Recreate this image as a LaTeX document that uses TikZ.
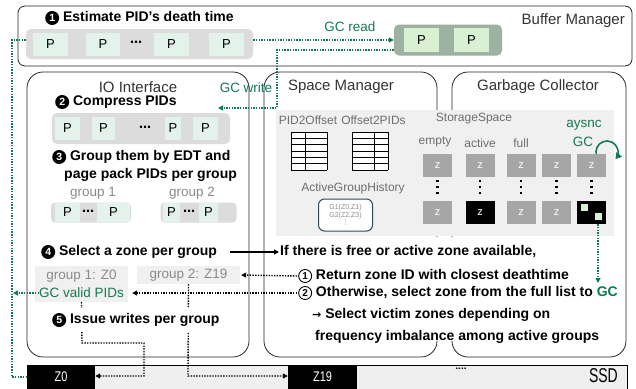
\documentclass[tikz,border=0pt]{standalone}
\usepackage{fontspec}
\usepackage{graphicx}
\setmainfont{Liberation Sans}
\newfontfamily\symfont{DejaVu Sans}
\usetikzlibrary{arrows.meta}

\definecolor{gcgreen}{HTML}{117A50}
\definecolor{barfill}{HTML}{DCDCDC}
\definecolor{pfill}{HTML}{E3F3EC}
\definecolor{readbox}{HTML}{9DB2A0}
\definecolor{readp}{HTML}{DAF0D3}
\definecolor{storefill}{HTML}{F0F0F0}
\definecolor{zgray}{HTML}{A6A6A6}
\definecolor{ltext}{HTML}{8A8A8A}
\definecolor{mtext}{HTML}{6E6E6E}
\definecolor{ssdfill}{HTML}{EFEFEF}
\definecolor{histline}{HTML}{2E4A5A}

% filled and outlined circled digits
\newcommand\stepnum[1]{\tikz[baseline=(stepnumnode.base)]\node[circle, fill=black, text=white,
  inner sep=0pt, minimum size=14pt, font=\bfseries\fontsize{10.5}{10}\selectfont] (stepnumnode) {#1};}
\newcommand\optnum[1]{\tikz[baseline=(optnumnode.base)]\node[circle, draw=black, line width=0.9pt,
  inner sep=0pt, minimum size=13pt, font=\fontsize{10}{10}\selectfont] (optnumnode) {#1};}
\newcommand\narrowtext[1]{\scalebox{0.78}[1]{#1}}

\tikzset{
  panel/.style={draw=black!85, line width=0.8pt, rounded corners=16pt},
  title/.style={font=\fontsize{15}{17}\selectfont, text=black!80, inner sep=0pt},
  stepline/.style={font=\bfseries\fontsize{14}{16}\selectfont, anchor=west, inner sep=1pt},
  bar/.style={fill=barfill, rounded corners=5pt, inner sep=0pt},
  pbox/.style={fill=pfill, minimum height=23pt, inner sep=0pt, font=\fontsize{13}{14}\selectfont},
  rpbox/.style={fill=readp, minimum height=24pt, minimum width=35pt, inner sep=0pt, font=\fontsize{13}{14}\selectfont},
  ell/.style={font=\bfseries\symfont\fontsize{12}{12}\selectfont, inner sep=0pt},
  glabel/.style={font=\fontsize{13.5}{15}\selectfont, text=ltext, inner sep=0pt},
  slabel/.style={font=\fontsize{12}{14}\selectfont, text=mtext, inner sep=0pt},
  green text/.style={font=\fontsize{13.5}{15}\selectfont, text=gcgreen, inner sep=0pt},
  zbox/.style={fill=zgray, minimum width=29pt, minimum height=23pt, inner sep=0pt,
    text=white, font=\fontsize{11}{12}\selectfont},
  zdark/.style={zbox, fill=black},
  blkdot/.style={draw=black, line width=1.4pt, dash pattern=on 1.4pt off 1.3pt},
  gcdot/.style={draw=gcgreen, line width=1.4pt, dash pattern=on 1.4pt off 1.3pt},
  tip/.style={-{Triangle[length=5pt,width=5pt]}},
  ssdzone/.style={fill=black, text=white, inner sep=0pt, minimum height=23pt,
    font=\fontsize{14}{15}\selectfont},
}

\begin{document}
\begin{tikzpicture}[x=1pt,y=-1pt]
\useasboundingbox (0,0) rectangle (636,388);
\fill[white] (0,0) rectangle (636,388);

% ---------------- Buffer Manager ----------------
\draw[panel, rounded corners=7pt] (18,6) rectangle (632,66);
\node[title, anchor=east] (bm) at (625,21) {Buffer Manager};
\node[stepline] (s1) at (44,18) {\stepnum{1} Estimate PID’s death time};
\node[bar, minimum width=227pt, minimum height=30pt] (bar1) at (139.5,44) {};
\node[pbox, minimum width=35pt] (p11) at (50.5,44) {P};
\node[pbox, minimum width=34pt] (p12) at (103,44) {P};
\node[ell] (e1) at (136,44) {⋯};
\node[pbox, minimum width=35pt] (p13) at (171.5,44) {P};
\node[pbox, minimum width=35pt] (p14) at (226.5,44) {P};

\node[bar, fill=readbox, minimum width=108pt, minimum height=31pt] (rbox) at (448,40) {};
\node[rpbox] (rp1) at (421.5,40) {P};
\node[rpbox] (rp2) at (471.5,40) {P};
\node[green text] (gcread) at (350,27) {GC read};

% ---------------- panels ----------------
\draw[panel] (27,72) rectangle (249,357);
\draw[panel] (264,72) rectangle (437,357);
\draw[panel] (452,72) rectangle (626,357);
\fill[white] (430,237) rectangle (459,341);

\node[title] (ioi) at (138,87) {IO Interface};
\node[title] (smt) at (341,87) {Space Manager};
\node[title] (gct) at (538,87) {Garbage Collector};

% ---------------- GC read / write paths ----------------
\node[green text] (gcwrite) at (246,88) {GC write};
\coordinate (gcwend) at (218,108);
\draw[gcdot, tip] (bar1.east |- rbox.west) -- (rbox.west);
\draw[gcdot, tip] ([yshift=-10pt]rbox.west) -- (277,50) -- (277,108) -- (gcwend);

% ---------------- IO Interface ----------------
\node[stepline] (s2) at (54,102) {\stepnum{2} Compress PIDs};
\node[bar, minimum width=178pt, minimum height=31pt] (bar2) at (141,128.5) {};
\node[pbox, minimum width=25pt] (p21) at (67.5,128.5) {P};
\node[pbox, minimum width=23pt] (p22) at (103.5,128.5) {P};
\node[ell] (e2) at (145,128.5) {⋯};
\node[pbox, minimum width=16pt] (p23) at (173,128.5) {P};
\node[pbox, minimum width=25pt] (p24) at (205.5,128.5) {P};

\node[stepline] (s3) at (51,157) {\stepnum{3} Group them by EDT and};
\node[stepline] (s3b) at (63,175) {page pack PIDs per group};
\node[glabel] (g1t) at (93,193) {group 1};
\node[glabel] (g2t) at (192,193) {group 2};

\node[bar, rounded corners=4pt, minimum width=80pt, minimum height=20pt] (g1) at (91,212.5) {};
\node[pbox, minimum width=25pt, minimum height=19pt] (g1a) at (67.5,212.5) {P};
\node[ell] (e3) at (88,212.5) {⋯};
\node[pbox, minimum width=33pt, minimum height=19pt] (g1b) at (113.5,212.5) {P};

\node[bar, rounded corners=4pt, minimum width=76pt, minimum height=20pt] (g2) at (198.5,212.5) {};
\node[pbox, minimum width=17pt, minimum height=19pt] (g2a) at (171.5,212.5) {P};
\node[ell] (e4) at (189,212.5) {⋯};
\node[pbox, minimum width=19pt, minimum height=19pt] (g2b) at (208.5,212.5) {P};

\node[stepline] (s4) at (40,252) {\stepnum{4} Select a zone per group};

\node[fill=storefill, minimum width=93pt, minimum height=36pt, inner sep=0pt] (g1lab) at (81.5,284) {};
\node[glabel] (g1z) at (81.5,276) {group 1: Z0};
\node[green text] (gcvalid) at (81.5,293) {GC valid PIDs};
\node[fill=storefill, minimum width=103pt, minimum height=18pt, inner sep=0pt,
      font=\fontsize{13.5}{15}\selectfont, text=ltext] (g2lab) at (188.5,275) {group 2: Z19};

% ---------------- SSD ----------------
\node[draw=black, line width=0.8pt, fill=ssdfill, minimum width=600pt, minimum height=24pt,
      inner sep=0pt] (ssd) at (327,377) {};
\node[ssdzone, minimum width=68pt] (z0) at (61,377) {\narrowtext{Z0}};
\node[ssdzone, minimum width=69pt] (z19) at (322.5,377) {\narrowtext{Z19}};
\node[font=\bfseries\fontsize{10}{10}\selectfont, inner sep=0pt] (sdots) at (461,369) {....};
\node[font=\fontsize{20}{20}\selectfont, inner sep=0pt, anchor=east] (ssdt) at (618,376) {\scalebox{0.7}[1]{SSD}};

% writes to the zones
\draw[blkdot, tip] (g1lab.south) -- (82,343) -- (144,343) -- (144,376) -- (z0.east |- 0,376);
\draw[blkdot, tip] (g2lab.south) -- (188,376) -- (z19.west |- 0,376);
\node[stepline, fill=white, inner ysep=5pt] (s5) at (51,320) {\stepnum{5} Issue writes per group};

% left GC loop
\coordinate (gcin) at (13,293);
\draw[gcdot] ([yshift=4pt]bar1.west) -- (12,40) -- (12,377) -- (z0.west);
\draw[gcdot, tip] (gcvalid.west) -- (gcin);

% ---------------- Space Manager / Storage ----------------
\node[fill=storefill, minimum width=338pt, minimum height=126pt, inner sep=0pt] (store) at (445,173) {};

\node[slabel] (pid2o) at (308,120) {PID2Offset};
\node[slabel] (o2pid) at (373.5,120) {Offset2PIDs};
\foreach \x/\v in {291/305, 352/374}{
  \fill[white] (\x,132) rectangle (\x+36,170);
  \foreach \k in {0,...,6}{ \draw[line width=0.8pt] (\x,132+\k*38/6) -- (\x+36,132+\k*38/6); }
  \draw[line width=0.8pt] (\x,132) -- (\x,170) (\v,132) -- (\v,170) (\x+36,132) -- (\x+36,170);
}
\node[slabel] (agh) at (353,188) {ActiveGroupHistory};
\node[draw=histline, line width=1pt, fill=white, rounded corners=6pt, minimum width=54pt,
      minimum height=32pt, inner sep=0pt, align=center, text=ltext,
      font=\fontsize{7}{8}\selectfont] (hist) at (345.5,215) {G1(Z0,Z1)\\G2(Z2,Z3)\\[-1pt]{\symfont ⋮}};

\node[slabel] (sspace) at (474,119) {StorageSpace};
\node[slabel] (lempty) at (435,142) {empty};
\node[slabel] (lactive) at (480,143) {active};
\node[slabel] (lfull) at (521,143) {full};
\node[green text] (async1) at (584,125) {aysnc};
\node[green text] (async2) at (583,142) {GC};
\draw[gcgreen, line width=1.6pt, -{Triangle[length=6pt,width=7pt]}]
  (607,152) ++(-200:11) arc[start angle=-200, end angle=40, radius=11];

\foreach \c/\x in {1/437.5, 2/480, 3/521, 4/556.5, 5/591.5}{
  \node[zbox] (zt\c) at (\x,165.5) {z};
  \foreach \d in {181,187,193}{ \fill (\x-1.3,\d-1.3) rectangle (\x+1.3,\d+1.3); }
}
\node[zbox] (zb1) at (437.5,212.5) {z};
\node[zdark] (zb2) at (480,212.5) {z};
\node[zbox] (zb3) at (521,212.5) {z};
\node[zbox] (zb4) at (556.5,212.5) {z};
\node[zdark] (zb5) at (591.5,212.5) {};
\fill[readp] (581,204) rectangle (588,211);
\fill[readp] (595,213) rectangle (602,220);
\coordinate (gcend) at (598,283);
\draw[gcdot, tip] ([xshift=6.5pt]zb5.south) -- (gcend);

% ---------------- zone selection ----------------
\node[stepline] (sel) at (279,252) {If there is free or active zone available,};
\draw[line width=1.3pt, tip] ([xshift=12pt]s4.east) -- (sel.west);
\node[stepline] (r1) at (297,276) {\optnum{1} Return zone ID with closest deathtime};
\node[stepline] (r2) at (297,293) {\optnum{2} Otherwise, select zone from the full list to \textcolor{gcgreen}{GC}};
\node[stepline] (r3) at (311,315) {{\symfont\fontsize{11}{12}\selectfont →} Select victim zones depending on};
\node[stepline] (r4) at (314,337) {frequency imbalance among active groups};
\draw[blkdot, tip] (r1.west) -- ([xshift=1pt]g2lab.east);
\draw[blkdot, tip] (r2.west) -- ([xshift=4pt]g1lab.east |- r2.west);
\end{tikzpicture}
\end{document}
